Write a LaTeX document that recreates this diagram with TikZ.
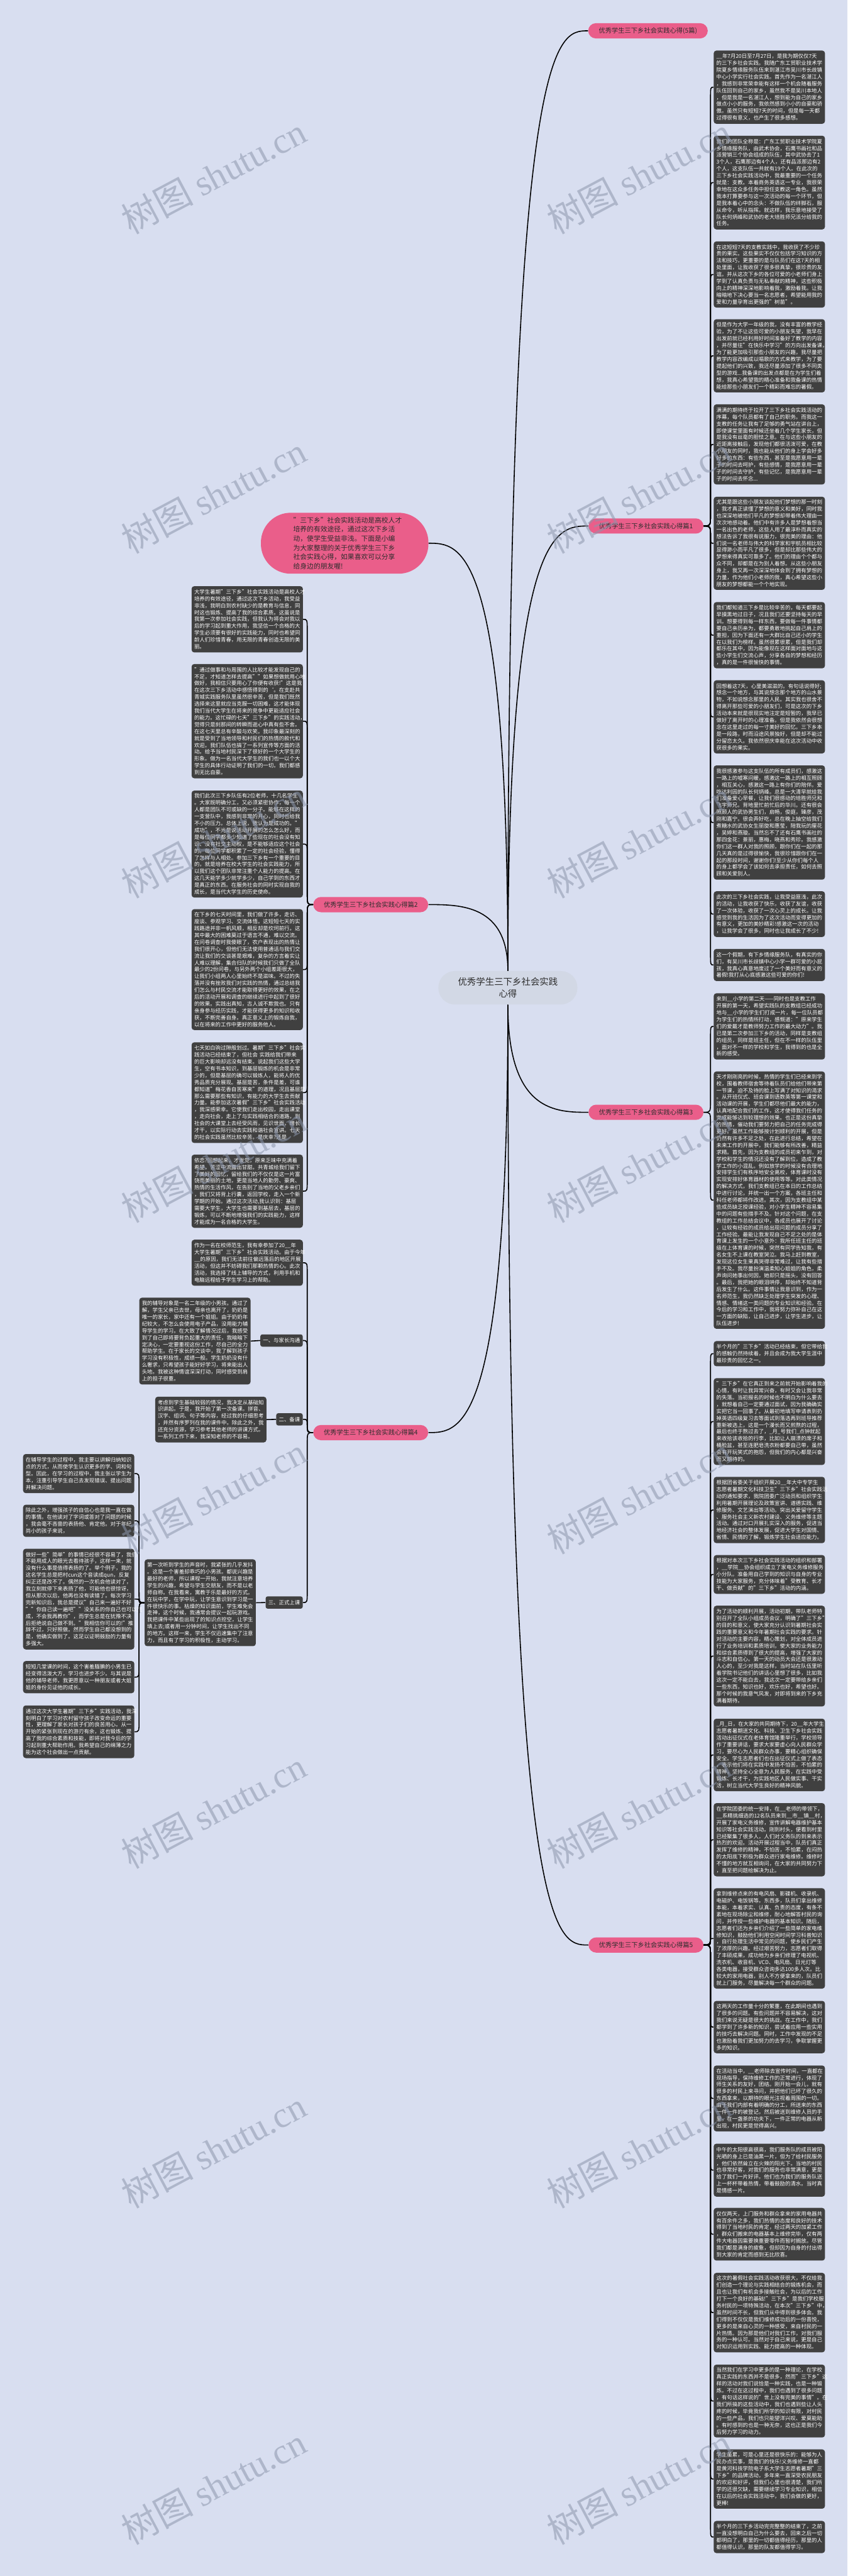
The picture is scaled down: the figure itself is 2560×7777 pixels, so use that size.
\documentclass[tikz,border=0pt]{standalone}
\usepackage{fontspec}
\setmainfont{Noto Sans CJK SC}
\newfontfamily\wmlatin{Liberation Serif}
\usetikzlibrary{calc}
\definecolor{bgc}{RGB}{216,222,240}
\definecolor{boxc}{RGB}{64,64,64}
\definecolor{pinkc}{RGB}{234,94,138}
\definecolor{rootc}{RGB}{210,216,229}
\definecolor{wmc}{RGB}{140,150,172}
\definecolor{txtc}{RGB}{45,45,45}
\tikzset{
 tb/.style={fill=boxc, rounded corners=0.8mm, text=white, text width=32mm, align=left, inner xsep=0.8mm, inner ysep=0mm, font=\fontsize{4.55pt}{5.89pt}\selectfont, anchor=north west},
 lab/.style={fill=pinkc, rounded corners=2.3mm, text=txtc, minimum height=4.6mm, minimum width=34.7mm, inner xsep=1mm, inner ysep=0mm, font=\fontsize{5.55pt}{6.6pt}\selectfont},
 subl/.style={fill=boxc, rounded corners=0.6mm, text=white, minimum height=3.7mm, inner xsep=0.8mm, inner ysep=0mm, font=\fontsize{4.55pt}{5.5pt}\selectfont, anchor=east},
 con/.style={draw=black, line width=0.3mm},
 wm/.style={text=wmc, opacity=0.55, rotate=28, font=\fontsize{31pt}{31pt}\selectfont},
}
\newcommand\tbx[5]{\node[tb, minimum height=#4*0.1mm] (#1) at (#2,#3) {#5};}
\newcommand\conR[4]{\draw[con] (#1.east) .. controls (#1.east -| #3) .. ($(#1.east -| #3)+(0,#4)$) -- ($(#2.west -| #3)-(0,#4)$) .. controls (#2.west -| #3) .. (#2.west);}
\newcommand\conL[4]{\draw[con] (#1.west) .. controls (#1.west -| #3) .. ($(#1.west -| #3)+(0,#4)$) -- ($(#2.east -| #3)-(0,#4)$) .. controls (#2.east -| #3) .. (#2.east);}
\newcommand\conC[2]{\draw[con] (#1) .. controls (#1 |- #2) and ($(#1 |- #2)!0.6!(#2)$) .. (#2);}
\begin{document}
\begin{tikzpicture}[x=0.1mm,y=-0.1mm]
\useasboundingbox (0,0) rectangle (2560,7777);
\fill[bgc] (0,0) rectangle (2560,7777);
\coordinate (TR) at (2146,0);
\coordinate (TL) at (928,0);
\coordinate (TF) at (420,0);

% central node and main labels
\node[fill=rootc, rounded corners=5mm, minimum width=42mm, minimum height=10.1mm, align=center, text=txtc, inner sep=0mm, font=\fontsize{7.8pt}{9.96pt}\selectfont] (c) at (1534,2982) {优秀学生三下乡社会实践\\心得};
\node[lab, anchor=west, minimum width=36.1mm] (t0) at (1776,93) {优秀学生三下乡社会实践心得(5篇)};
\node[lab, anchor=west] (p1) at (1777,1588) {优秀学生三下乡社会实践心得篇1};
\node[lab, anchor=west] (p3) at (1777,3358) {优秀学生三下乡社会实践心得篇3};
\node[lab, anchor=west] (p5) at (1777,5872) {优秀学生三下乡社会实践心得篇5};
\node[lab, anchor=east] (p2) at (1294,2731) {优秀学生三下乡社会实践心得篇2};
\node[lab, anchor=east] (p4) at (1294,4325) {优秀学生三下乡社会实践心得篇4};
\node[fill=pinkc, rounded corners=9mm, minimum width=50.6mm, minimum height=18.4mm, text width=31mm, align=left, text=txtc, inner sep=0mm, font=\fontsize{5.83pt}{7.88pt}\selectfont] (intro) at (1041,1640) {"三下乡"社会实践活动是高校人才\\培养的有效途径，通过这次下乡活\\动，使学生受益非浅。下面是小编\\为大家整理的关于优秀学生三下乡\\社会实践心得，如果喜欢可以分享\\给身边的朋友喔!};

% right column boxes
\tbx{r1}{2155}{152}{221}{\_\_年7月20日至7月27日，是我为期仅仅7天\\的三下乡社会实践。我随广东工贸职业技术学\\院夏乡情缘服务队伍来到湛江市吴川市长歧镇\\中心小学实行社会实践。首先作为一名湛江人\\，我感到非常荣幸能有这样一个机会随着服务\\队伍回到自己的家乡，虽然我不是吴川本地人\\，但是我是一名湛江人，想到能为自己的家乡\\做点小小的服务，我依然感到小小的自豪和骄\\傲。虽然只有短短7天的时间，但是每一天都\\过得很有意义，也产生了很多感想。}
\tbx{r2}{2155}{409}{283}{我们的团队全称是：广东工贸职业技术学院夏\\乡情缘服务队，由武术协会，石鹰书画社和品\\派营销三个协会组成的队伍，其中武协去了1\\3个人，石鹰那边有4个人，还有品派那边有2\\个人，这支队伍一共就有19个人。在此次的\\三下乡社会实践活动中，我最重要的一个任务\\就是：支教。本着商务英语这一专业，我很荣\\幸地在这众多任务中担任支教这一角色。虽然\\我本打算要参与这一次活动的每一个环节，但\\是我本着心中的念头：不做队伍的绊脚石，服\\从命令，听从指挥。就这样，我乐意地接受了\\队长何炳峰和武协的老大培胜师兄派分给我的\\任务。}
\tbx{r3}{2155}{728}{200}{在这短短7天的支教实践中，我收获了不少珍\\贵的果实。这些果实不仅仅包括学习知识的方\\法和技巧，更重要的是与队员们在这7天的相\\处里面，让我收获了很多很真挚，很珍贵的友\\谊。并从这次下乡的各位可爱的小老师们身上\\学到了认真负责与无私奉献的精神，这些积极\\向上的精神深深地影响着我，激励着我。让我\\暗暗地下决心要当一名志愿者，希望能用我的\\爱和力量孕育出更强的"树苗"。}
\tbx{r4}{2155}{963}{221}{但是作为大学一年级的我，没有丰富的教学经\\验，为了不让这些可爱的小朋友失望，我早在\\出发前就已经利用好时间准备好了教学的内容\\，并尽量往"在快乐中学习"的方向出发备课，\\为了能更加吸引那些小朋友的兴趣，我尽量把\\教学内容改编成以唱歌的方式来教学，为了要\\提起他们的兴致，我还尽量添加了很多不同类\\型的游戏...我备课的出发点都是在为学生们着\\想，我真心希望我的精心准备和我备课的热情\\能给那些小朋友们一个精彩而难忘的暑假。}
\tbx{r5}{2155}{1220}{242}{满满的期待终于拉开了三下乡社会实践活动的\\序幕，每个队员都有了自己的职务。而我这一\\支教的任务让我有了足够的勇气站在讲台上，\\即使课堂里面有时候还坐着几个学生家长，但\\是我没有丝毫的胆怯之意。在与这些小朋友的\\近距离接触后，发现他们都很活泼可爱，在教\\小朋友的同时，我也能从他们的身上学会好多\\好多的东西：有些东西，甚至是我愿意用一辈\\子的时间去呵护，有些感情，是我愿意用一辈\\子的时间去守护，有些记忆，是我愿意用一辈\\子的时间去怀念...}
\tbx{r6}{2155}{1499}{281}{尤其是跟这些小朋友谈起他们梦想的那一时刻\\，我才真正读懂了梦想的意义和美好，同时我\\也深深地被他们平凡的梦想却带着伟大理由一\\次次地感动着。他们中有许多人是梦想着想当\\一名出色的老师，这些人用了最淳朴而真实的\\想法告诉了我很有说服力，很完美的理由：他\\们说一名老师与伟大的科学家和宇航员相比较\\显得渺小而平凡了很多，但是却比那些伟大的\\梦想来得真实可靠多了。他们的理由个个都与\\众不同，却都是在为别人着想。从这些小朋友\\身上，我又再一次深深地体会到了拥有梦想的\\力量，作为他们小老师的我，真心希望这些小\\朋友的梦想都能一个个地实现。}
\tbx{r7}{2155}{1817}{200}{我们都知道三下乡是比较辛苦的，每天都要起\\早摸黑地过日子，况且我们还要坚持每天的早\\训。想要得到每一样东西，要做每一件事情都\\要自己亲历亲为，都要勇敢地挑起自己肩上的\\重担，因为下面还有一大群比自己还小的学生\\在以我们为榜样。虽然很累很累，但是我们却\\都乐在其中，因为能像现在这样面对面地与这\\些小学生们交流心声，分享各自的梦想和经历\\，真的是一件很愉快的事情。}
\tbx{r8}{2155}{2053}{221}{回想着这7天，心里美滋滋的。有句话说得好;\\想念一个地方，与其说想念那个地方的山水景\\物，不如说想念那里的人民。其实我也很舍不\\得离开那些可爱的小朋友们，可是这次的下乡\\活动本来就是很现实地注定是短暂的，我早已\\做好了离开时的心理准备。但是我依然会很想\\念在这里走过的每一寸美好的回忆。三下乡本\\是一段路，时而沿途风景独好，但是却不能过\\分留恋太久。我依然很庆幸能在这次活动中收\\获很多的果实。}
\tbx{r9}{2155}{2310}{345}{我很感激参与这支队伍的所有成员们，感激这\\一路上的嘘寒问暖，感激这一路上的相互照顾\\，相互关心，感激这一路上有你们的陪伴。爱\\吃达利园的队长何炳峰。总是一大清早就给我\\们准备爱心早餐，让我们很感动的培胜师兄和\\飞宇师兄。背地里忙前忙后的华川。还有很会\\照顾人的武协男生们，启畅，俊庭，臻彦，茂\\刚和嘉宁。很会弄好吃，总在晚上抽空给我们\\煮糖水的武协女生丽旋和惠莹，陪我玩的厘花\\，吴婷和燕璇。当然忘不了还有石鹰书画社的\\那四金花：景丽，惠梅，晓燕和秀珍。我感激\\你们这一群人对我的照顾，跟你们在一起的那\\几天真的是过得很愉快，我很珍惜跟你们在一\\起的那段时间，谢谢你们!至少从你们每个人\\的身上都学会了该如何去承担责任，如何去照\\顾和关爱别人。}
\tbx{r10}{2155}{2690}{138}{此次的三下乡社会实践，让我受益匪浅，此次\\的活动，让我收获了快乐，收获了友谊，收获\\了一次体验，收获了一次心灵上的成长。让我\\感觉到我的生活因为了这次活动而变得更加的\\有意义，更加的美妙精彩!感激这一次的活动\\，让我学会了很多，同时也让我成长了不少!}
\tbx{r11}{2155}{2864}{97}{这一个假期，有下乡情缘服务队，有真实的你\\们，有吴川市长歧镇中心小学一群可爱的小屁\\孩，我真心真意地度过了一个美好而有意义的\\暑假!我打从心底感激这些可爱的你们!}
\tbx{r12}{2155}{2998}{200}{来到\_\_小学的第二天——同时也是支教工作\\开展的第一天，希望实践队的支教组已经成功\\地与\_\_小学的学生们打成一片，每一位队员都\\为学生们的热情所打动，感慨道："原来学生\\们的爱戴才是教师努力工作的最大动力"。我\\已是第二次参加三下乡的活动，同样是支教组\\的组员，同样是班主任，但在不一样的队伍里\\，面对不一样的学校和学生，我得到的也是全\\新的感受。}
\tbx{r13}{2155}{3234}{777}{天才刚刚亮的时候，热情的学生们已经来到学\\校，围着教师宿舍等待着队员们给他们带来第\\一节课，迫不及待的脸上写满了对知识的渴求\\。从开班仪式、班会课到语数英等第一课堂和\\活动课的开展，学生们都尽他们最大的能力，\\认真地配合我们的工作，这才使得我们任务的\\完成能够达到较理想的效果。也正是这份真挚\\的热情，催动我们要努力把自己的任务完成得\\更好。虽然工作能够按计划顺利的开展，但是\\仍然有许多不足之处，在此进行总结，希望在\\未来工作的开展中，我们能够有所改善，精益\\求精。首先，因为支教组的成员初来乍到，对\\学校和学生的情况还没有了解到位，造成了教\\学工作的小混乱。例如放学的时候没有合理地\\安排学生们有秩序地安全离校，体育课时没有\\实现安排好体育器材的使用等等。对此类情况\\的解决方式，我们支教组已在本日的工作总结\\中进行讨论，并统一出一个方案，各班主任和\\科任老师都将作改进。其次，因为支教组中某\\些成员缺乏授课经验，对小学生精神不容易集\\中的问题有些措手不及。针对这个问题，在支\\教组的工作总结会议中，各成员也展开了讨论\\，让较有经验的成员给出现问题的成员分享了\\工作经验。最能让我发现自己不足之处的是体\\育课上发生的一个小意外：我所任班主任的班\\级在上体育课的时候，突然有同学告知我，有\\名女生不上课在教室哭泣。我马上赶到教室，\\发现这位女生果真哭得非常难过，让我有些措\\手不及。我尽量扮演温柔知心姐姐的角色，柔\\声询问她事出何因，她却只是摇头，没有回答\\。最后，我把她的眼泪哄停，却始终不知道背\\后发生了什么。这件事情让我意识到，作为一\\名师范生，我仍然缺乏处理学生突发的心理、\\情感、情绪这一类问题的专业知识和经验。在\\今后的学习和工作中，我将努力弥补自己在这\\一方面的缺陷，让自己进步，让学生进步，让\\队伍进步!}
\tbx{r14}{2155}{4048}{76}{半个月的"三下乡"活动已经结束，但它带给我\\的感触仍然持续着，并且会成为我大学生涯中\\最珍贵的回忆之一。}
\tbx{r15}{2155}{4160}{262}{"三下乡"在它真正到来之前就开始影响着我的\\心情，有时让我异常兴奋，有时又会让我非常\\的失落。当初报名的时候也不明白为什么要去\\，就想着自己一定要通过面试，因为我确确实\\实把它当一回事了。从最初地填写申请表到扔\\掉英语四级复习去等面试到落选再到班导推荐\\重新被选上，这是一个漫长而又煎熬的过程，\\最后也终于熬过去了，\_月\_号我们\_点钟就起\\来收拾该收拾的行李，比如让人崩溃的席子和\\桶脸盆，甚至连肥皂洗衣粉都要自己带，虽然\\会有开玩笑式的抱怨，但我们的内心都是兴奋\\而又期待的。}
\tbx{r16}{2155}{4458}{200}{根据团省委关于组织开展20\_\_年大中专学生\\志愿者暑期文化科技卫生"三下乡"社会实践活\\动的通知要求，我院团委广泛动员和组织学生\\利用暑期开展理论及政策宣讲、道德实践、维\\修服务、文艺演出等活动。突出关爱留守学生\\、服务社会主义新农村建设、义务维修等主题\\活动。通过对口开展扎实深入的服务，促进当\\地经济社会的整体发展，促进大学生对国情、\\省情、民情的了解，锻炼学生社会适应能力。}
\tbx{r17}{2155}{4694}{117}{根据对本次三下乡社会实践活动的组织和部署\\，\_\_学院\_\_协会组织成立了家电义务维修服务\\小分队。准备用自己学到的知识与自身的专业\\技能为大家服务，充分体味着"受教育、长才\\干、做贡献"的"三下乡"活动的内涵。}
\tbx{r18}{2155}{4847}{304}{为了活动的顺利开展，活动初期，带队老师特\\别召开了全队小组成员会议，明确了"三下乡"\\的目的和意义，使大家充分认识到暑期社会实\\践的重要意义和今年暑期社会实践的要求。针\\对活动的主要内容，精心策划，对全体成员进\\行了业务培训和素质培训，使大家的业务能力\\和综合素质得到了很大的提高，增强了大家的\\斗志和自信心。第一天的动员大会还是很激动\\人心的，至少对我是这样，当时站在队伍里听\\着学院书记他们的讲话心里想了很多，比如我\\这次一定不能白去，我这次一定要带给乡亲们\\一些东西，知识也好，欢乐也好，希望也好。\\那个时候的我意气风发，对即将到来的下乡充\\满着期待。}
\tbx{r19}{2155}{5188}{219}{\_月\_日，在大家的共同期待下，20\_\_年大学生\\志愿者暑期送文化、科技、卫生下乡社会实践\\活动出征仪式在老体育馆隆重举行，学校领导\\作了重要讲话，要求大家要虚心向人民群众学\\习，要尽心为人民群众办事，要精心组织确保\\安全。学生志愿者们也在出征仪式上做了表态\\，表示他们将在实践中发扬不怕苦，不怕累的\\精神，坚持全心全意为人民服务，在实践中受\\锻炼、长才干，为实践地区人民做实事、干实\\活，树立当代大学生良好的精神风貌。}
\tbx{r20}{2155}{5443}{221}{在学院团委的统一安排，在\_\_老师的带领下，\\\_\_系精挑细选的12名队员来到\_\_市\_\_镇\_\_村，\\开展了家电义务维修，宣传讲解电器维护基本\\知识等社会实践活动。刚到村头，便看到村里\\已经聚集了很多人，人们对义务队的到来表示\\热烈的欢迎。活动开展过程当中，队员们真正\\发挥了维修的精神，不怕苦，不怕累，在闷热\\的太阳底下积极为群众进行家电维修。维修时\\不懂的地方就互相询问，在大家的共同努力下\\，直至把问题给解决为止。}
\tbx{r21}{2155}{5700}{303}{拿到维修点来的有电风扇、影碟机、收录机、\\电磁炉、电饭锅等。东西多，队员们拿出维修\\本能，本着求实、认真、负责的态度，有条不\\紊地在现场除尘和维修，耐心地解答村民的询\\问，并传授一些维护电器的基本知识。随后，\\志愿者们还为乡亲们介绍了一些简单的家电维\\修知识，鼓励他们利用空闲时间学习科普知识\\，自行处理生活中常见的问题，使乡民们产生\\了浓厚的兴趣。经过艰苦努力，志愿者们取得\\了丰硕成果，成功地为乡亲们修理了电视机、\\洗衣机、收音机、VCD、电风扇、日光灯等\\各类电器，接受群众咨询多达100多人次。比\\较大的家用电器，别人不方便拿来的，队员们\\就上门服务，尽量解决每一个群众的问题。}
\tbx{r22}{2155}{6040}{158}{这两天的工作量十分的繁重，在此期间也遇到\\了很多的问题。有些问题并不容易解决，这对\\我们来说无疑是很大的挑战。在工作中，我们\\都学到了许多新的知识，尝试着应用一些实用\\的技巧去解决问题。同时，工作中发现的不足\\也激励着我们更加努力的去学习，争取掌握更\\多的知识。}
\tbx{r23}{2155}{6235}{199}{在活动当中，\_\_老师除去宣传时间，一直都在\\现场指导，保持维修工作的正常进行，体现了\\师生关系的友好，团结。刚开始一会儿，就有\\很多的村民上来寻问，并把他们已坏了很久的\\东西拿来，以期待的眼光注视着周围的一切。\\由于我们内部有着明确的分工，所送来的东西\\一件一件的被登记，然后被送到维修人员的手\\里，在一盏茶的功夫下，一件正常的电器从新\\出现，村民更是觉得高兴。}
\tbx{r24}{2155}{6471}{160}{中午的太阳很高很高，我们服务队的成员被阳\\光晒的身上已是油黑一片，但为了给村民服务\\，他们依然耸立在火辣的阳光下。当地的村民\\也非常好客，对我们的服务也非常满意，更是\\给了我们一片好评。他们也为我们的服务队送\\上一杯杯带着热情，带着鼓励的清水。当时真\\是情感一片。}
\tbx{r25}{2155}{6665}{159}{仅仅两天，上门服务和群众拿来的家用电器共\\有百余件之多，我们热情的态度和良好的技术\\得到了当地村民的肯定，经过两天的加紧工作\\，群众们搬来的电器基本上维修完毕，仅有两\\件大电器因需要换重要零件而暂时搁放。尽管\\我们都是满身的疲惫，但却因为自身的付出得\\到大家的肯定而感到无比欣喜。}
\tbx{r26}{2155}{6861}{240}{这次的暑假社会实践活动收获很大，不仅给我\\们创造一个理论与实践相结合的锻炼机会，而\\且也让我们有机会多接触社会，为以后的工作\\打下一个良好的基础!"三下乡"是我们学校服\\务村民的一项特殊活动，在本次"三下乡"中，\\虽然时间不长，但我们从中得到很多体会。我\\们得到不仅仅是我们维修成功后的一份喜悦，\\更多的是来自心灵的一种感受，来自村民的一\\片热情。因为那是他们对我们工作，对我们服\\务的一种认可。当然对于自己来说，更是自己\\对知识运用到实践、能力提高的一种体现。}
\tbx{r27}{2155}{7138}{220}{当然我们在学习中更多的是一种理论，在学校\\真正实践的东西并不是很多，然而"三下乡"这\\样的活动对我们说恰是一种实践，也是一种锻\\炼。不过在这过程中，我们也遇到了很多问题\\，有句话这样说的"世上没有完美的事情"。在\\我们所搞的这些活动中，我们也遇到些让人头\\疼的时候，毕竟我们所学的知识有限，对村民\\的一些产品，我们也只能望洋兴叹、爱莫能助\\。有时感到的也是一种无奈，这也正是我们今\\后努力学习的动力。}
\tbx{r28}{2155}{7394}{179}{学生虽累，可是心里还是很快乐的：能够为人\\民办点实事，是我们的快乐!义务维修一直都\\是黄河科技学院电子系大学生志愿者暑期"三\\下乡"的品牌活动，多年来一直深受农民朋友\\的欢迎和好评，但我们心里也很清楚，我们所\\学的还很欠缺，需要继续学习专业知识，相信\\在以后的社会实践活动中，我们会做的更好，\\更棒!}
\tbx{r29}{2155}{7610}{97}{半个月的三下乡活动完完整整的结束了，之前\\一直没想明白自己为什么要去，回来之后一切\\都明白了，那里的一切都值得经历，那里的人\\都值得认识，那里的队友都值得学习。}

% left column boxes
\tbx{l1}{578}{1769}{200}{大学生暑期"三下乡"社会实践活动是高校人才\\培养的有效途径，通过这次下乡活动，我受益\\非浅，我明白到农村缺少的是教育与信息，同\\时这也锻炼、提高了我的综合素质。这虽说是\\我第一次参加社会实践，但我认为将会对我以\\后的学习起到重大作用，我坚信一个合格的大\\学生必须要有很好的实践能力，同时也希望同\\龄人们珍惜青春，用无限的青春创造无限的美\\丽。}
\tbx{l2}{578}{2004}{345}{"通过做事和与周围的人比较才能发现自己的\\不足，才知道怎样去提高""如果想做就用心地\\做好，我相信只要用心了你便有收获!"这是我\\在这次三下乡活动中感悟得到的`。在支赴共\\青城实践服务队里虽然很辛苦，但是我们既然\\选择来这里就应当克服一切困难，这才能体现\\我们当代大学生在将来的竞争中更能适应社会\\的能力。这忙碌的七天"三下乡"的实践活动，\\觉得只是刹那间的转瞬而逝心中真有些不舍。\\在这七天里总有辛酸与欢笑。我印象最深刻的\\就是受到了当地领导和村民们的热情的款代和\\欢迎。我们队伍也搞了一系列宣传等方面的活\\动。给予当地村民深下了很好的一个大学生的\\形象。做为一名当代大学生的我们也一以个大\\学生的具体行动证明了我们的一切。我们都感\\到无比自豪。}
\tbx{l3}{578}{2386}{323}{我们此次三下乡队伍有2位老师，十几名学生\\。大家既明确分工，又必须紧密协作，每一个\\人都是团队不可或缺的一分子。能够在这样的\\一支营队中，我感到非常的开心，同时也给我\\不小的压力。总体上说，我认为是成功的。"\\成功"，不光是说活动开展的怎么怎么好，而\\是每位同学都多少知道了些现在的社会没有知\\识、没有社交主动权，是不能够适应这个社会\\的。每位同学都积累了一定的社会经验，懂得\\了怎样与人相处。参加三下乡有一个重要的目\\的，就是培养在校大学生的社会实践能力，所\\以我们这个团队非常注重个人能力的提高。在\\这几天能学多少就学多少，自己学到的东西才\\是真正的东西。在服务社会的同时实现自我的\\成长，是当代大学生的历史使命。}
\tbx{l4}{578}{2744}{365}{在下乡的七天时间里，我们做了许多，走访、\\座谈、参观学习、交流体悟。这短短七天的实\\践路途并非一帆风顺，相反却是坎坷前行。这\\其中最大的困难莫过于语言不通，难以交流。\\在问卷调查时我傻眼了，农户表现出的热情让\\我们很开心，但他们无法使用普通话与我们交\\流让我们的交谈甚是艰难，复杂的方言着实让\\人难以理解，集合归队的时候我们只做了全队\\最少的2份问卷，与另外两个小组差距很大，\\让我们小组两人心里始终不是滋味。不过的失\\落并没有挫败我们对实践的热情，通过总结我\\们怎么与村民交流才能取得更好的效果，在之\\后的活动开展和调查的继续进行中起到了很好\\的效果。实践出真知，古人诚不欺我也。只有\\亲身参与经历实践，才能获得更多的知识和收\\获，不断完善自身。真正意义上的锻炼自我，\\以在将来的工作中更好的服务他人。}
\tbx{l5}{578}{3146}{304}{七天如白驹过隙般划过。暑期"三下乡"社会实\\践活动已经结束了，但社会 实践给我们带来\\的巨大影响却远没有结束。说起我们这些大学\\生，空有书本知识，到基层锻炼的机会是非常\\少的，但是基层的确可以锻炼人，能将人的优\\秀品质充分展现。基层是苦，条件是差，可谁\\都知道"梅花香自苦寒来"的道理，况且基层是\\那么需要那些有知识，有能力的大学生去贡献\\力量。能参加这次暑假"三下乡"社会实践活动\\，我深感荣幸。它使我们走出校园，走出课堂\\，走向社会，走上了与实践相结合的道路，到\\社会的大课堂上去经受风雨，见识世面，增长\\才干，以实际行动去实践和谐社会宣讲。七天\\的社会实践虽然比较辛苦。是庆幸?还是}
\tbx{l6}{578}{3485}{221}{依恋?回想起来，才发觉，原来乏味中充满着\\希望，苦涩中流露出甘甜。共青城给我们留下\\了美好的回忆，留给我们的不仅仅是这一片富\\饶而美丽的土地，更是当地人的勤劳、豪爽、\\热情的生活作风，在告别了当地的父老乡亲们\\，我们又将背上行囊，返回学校，走入一个新\\学期的开始。通过这次活动,我认识到：基层\\需要大学生，大学生也需要到基层去，基层的\\锻炼，可以不断地增强我们的实践能力，这样\\才能成为一名合格的大学生。}
\tbx{m1}{578}{3742}{139}{作为一名在校师范生，我有幸参加了20\_\_年\\大学生暑期"三下乡"社会实践活动。由于今年\\\_\_的原因，我们无法前往偏远落后的地区开展\\活动，但这并不妨碍我们那颗热情的心。此次\\活动，我选择了线上辅导的方式，利用手机和\\电脑远程给予学生学习上的帮助。}

% sub labels and their boxes
\node[subl] (s1) at (915,4047) {一、与家长沟通};
\node[subl] (s2) at (915,4285) {二、备课};
\node[subl] (s3) at (915,4838) {三、正式上课};
\tbx{k1}{420}{3917}{262}{我的辅导对象是一名二年级的小男孩。通过了\\解，学生父亲已去世，母亲也离开了，奶奶是\\唯一的家长，家中还有一个姐姐。由于奶奶年\\纪较大，不怎么会使用电子产品，没用能力辅\\导学生的学习。在大致了解情况过后，我感受\\到了自己即将要背负起重大的责任，我暗暗下\\定决心，一定要重视这份工作，尽自己的全力\\帮助学生。在于家长的交谈中，我了解到孩子\\学习没有积极性，成绩一般。学生奶奶没有什\\么奢求，只希望孩子能好好学习，将来能出人\\头地。我被这种情谊深深打动，同时感受到肩\\上的担子很重。}
\tbx{k2}{468}{4216}{138}{考虑到学生基础较弱的情况，我决定从基础知\\识讲起。于是，我开始了第一次备课。拼音、\\汉字、组词、句子等内容，经过我的仔细思考\\，井然有序罗列在我的课件中。除此之外，我\\还充分资源，学习参考其他老师的讲课方式。\\一系列工作下来，我深知老师的不容易。}
\tbx{k3}{436}{4707}{262}{第一次听到学生的声音时，我紧张的几乎发抖\\。这是一个害羞却乖巧的小男孩。都说兴趣是\\最好的老师，所以课程一开始，我就注意培养\\学生的兴趣，希望与学生交朋友，而不是以老\\师自称。在我看来，寓教于乐是最好的方式。\\在玩中学，在学中玩，让学生意识到学习是一\\件很快乐的事。枯燥的知识面前，学生难免会\\走神，这个时候，我通常会提议一起玩游戏。\\我把课件中某些出现了的知识点挖空，让学生\\填上去;或者用一分钟时间，让学生找出不同\\的地方。这样一来，学生不仅迅速集中了注意\\力，而且有了学习的积极性，主动学习。}
\tbx{f1}{69}{4389}{118}{在辅导学生的过程中，我主要以讲解归纳知识\\点的方式，从而使学生认识更多的字、词和句\\型。因此，在学习的过程中，我主张以学生为\\本，注重引导学生自己去发现错误、提出问题\\并解决问题。}
\tbx{f2}{69}{4542}{97}{除此之外，增强孩子的自信心也是我一直在做\\的事情。在他读对了字词或答对了问题的时候\\，我会毫不吝啬的表扬他、肯定他。对于年纪\\尚小的孩子来说，}
\tbx{f3}{69}{4675}{304}{做好一些"简单"的事情已经很不容易了，我们\\不能用成人的眼光去看待孩子，这样一来，就\\没有什么事是值得表扬的了。举个例子，我的\\这名学生总是把村cun这个音读成qun，反复\\纠正还是改不了。偶然的一次机会他读对了，\\我立刻就停下来表扬了他，可能他也很惊讶，\\但从那次以后，他再也没有读错了。每次学习\\完新知识后，我总是提议"自己来一遍好不好\\""你自己读一遍吧""没关系的你自己也可以完\\成，不会我再教你"，而学生总是在犹豫不决\\后拒绝说自己做不到。"我相信你可以的!"推\\辞不过，只好照做。然而学生自己都没想到的\\是，他确实做到了。这足以证明鼓励的力量有\\多强大。}
\tbx{f4}{69}{5014}{97}{短短几堂课的时间，这个害羞腼腆的小男生已\\经变得活泼大方，学习也进步不少。与其说是\\他的辅导老师，我更愿意以一种朋友或者大姐\\姐的身份见证他的成长。}
\tbx{f5}{69}{5148}{159}{通过这次大学生暑期"三下乡"实践活动，我深\\刻明白了学习对农村留守孩子改变命运的重要\\性，更理解了家长对孩子们的良苦用心。从一\\开始的紧张到现在的游刃有余，这也锻炼、提\\高了我的综合素质和技能，即将对我今后的学\\习起到重大帮助作用。我希望自己的绵薄之力\\能为这个社会做出一点贡献。}

% connectors from the central node
\conC{c.north}{t0.west}
\conC{c.north}{intro.east}
\conC{c.north}{p1.west}
\conC{c.north}{p2.east}
\conC{c.south}{p3.west}
\conC{c.south}{p4.east}
\conC{c.south}{p5.west}

% branch 1
\conR{p1}{r1}{TR}{-35}\conR{p1}{r2}{TR}{-35}\conR{p1}{r3}{TR}{-35}\conR{p1}{r4}{TR}{-35}
\conR{p1}{r5}{TR}{-35}\conR{p1}{r6}{TR}{25}\conR{p1}{r7}{TR}{35}\conR{p1}{r8}{TR}{35}
\conR{p1}{r9}{TR}{35}\conR{p1}{r10}{TR}{35}\conR{p1}{r11}{TR}{35}
% branch 3
\conR{p3}{r12}{TR}{-35}\conR{p3}{r13}{TR}{35}
% branch 5
\conR{p5}{r14}{TR}{-35}\conR{p5}{r15}{TR}{-35}\conR{p5}{r16}{TR}{-35}\conR{p5}{r17}{TR}{-35}
\conR{p5}{r18}{TR}{-35}\conR{p5}{r19}{TR}{-35}\conR{p5}{r20}{TR}{-35}\conR{p5}{r21}{TR}{-10}
\conR{p5}{r22}{TR}{35}\conR{p5}{r23}{TR}{35}\conR{p5}{r24}{TR}{35}\conR{p5}{r25}{TR}{35}
\conR{p5}{r26}{TR}{35}\conR{p5}{r27}{TR}{35}\conR{p5}{r28}{TR}{35}\conR{p5}{r29}{TR}{35}
% branch 2
\conL{p2}{l1}{TL}{-35}\conL{p2}{l2}{TL}{-35}\conL{p2}{l3}{TL}{-35}
\conL{p2}{l4}{TL}{35}\conL{p2}{l5}{TL}{35}\conL{p2}{l6}{TL}{35}
% branch 4
\conL{p4}{m1}{TL}{-35}\conL{p4}{s1}{TL}{-35}\conL{p4}{s2}{TL}{-20}\conL{p4}{s3}{TL}{35}
\draw[con] (s1.west) -- (k1.east);
\draw[con] (s2.west) -- (k2.east);
\draw[con] (s3.west) -- (k3.east);
\conL{k3}{f1}{TF}{-35}\conL{k3}{f2}{TF}{-35}\conL{k3}{f3}{TF}{-5}\conL{k3}{f4}{TF}{35}\conL{k3}{f5}{TF}{35}

% watermarks
\foreach \wy [count=\i] in {530,1495,2535,3515,4515,5465,6490,7505}{
  \node[wm] (wl\i) at (645,\wy) {树图 {\wmlatin shutu.cn}};
  \node[wm] (wr\i) at (1930,\wy) {树图 {\wmlatin shutu.cn}};
}
\end{tikzpicture}
\end{document}
